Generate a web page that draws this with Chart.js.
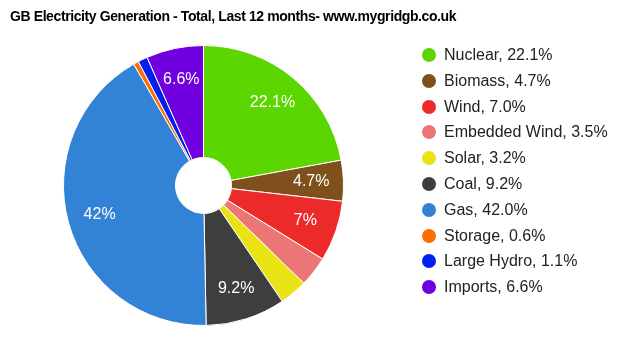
<!DOCTYPE html>
<html>
<head>
<meta charset="utf-8">
<script src="https://cdn.jsdelivr.net/npm/chart.js@4/dist/chart.umd.min.js"></script>
<style>
  html, body { margin: 0; padding: 0; background: #fff; }
  #wrap { position: relative; width: 632px; height: 348px; font-family: Arial, 'Liberation Sans', sans-serif; }
  #title { position: absolute; left: 10px; top: 8px; font-size: 14px; letter-spacing: -0.4px; font-weight: bold; color: #000; white-space: nowrap; }
  #legend .row { position: absolute; left: 422px; height: 26px; display: flex; align-items: center; font-size: 16px; color: #222; white-space: nowrap; }
  #legend .dot { width: 14px; height: 14px; border-radius: 50%; margin-right: 8px; }
  canvas { position: absolute; left: 0; top: 0; }
</style>
</head>
<body>
<div id="wrap">
  <canvas id="genChart" width="632" height="348"></canvas>
  <div id="title">GB Electricity Generation - Total, Last 12 months- www.mygridgb.co.uk</div>
  <div id="legend"></div>
</div>
<script>
// Generation mix, share of total over last 12 months (%)
const sources = ['Nuclear', 'Biomass', 'Wind', 'Embedded Wind', 'Solar', 'Coal', 'Gas', 'Storage', 'Large Hydro', 'Imports'];
const shares = [22.1, 4.7, 7.0, 3.5, 3.2, 9.2, 42.0, 0.6, 1.1, 6.6];
const colours = ['#5cd600', '#7f4f1c', '#ec2a2a', '#ec7575', '#e9e215', '#3e3e3e', '#3283d6', '#ff6c00', '#0020ee', '#7000e0'];

// legend on the right
const legend = document.getElementById('legend');
sources.forEach((s, i) => {
  const row = document.createElement('div');
  row.className = 'row';
  row.style.top = (55 + i * 25.8 - 13) + 'px';
  row.innerHTML = `<span class="dot" style="background:${colours[i]}"></span><span>${s}, ${shares[i].toFixed(1)}%</span>`;
  legend.appendChild(row);
});

// white percentage text inside the bigger slices
const sliceLabels = {
  id: 'sliceLabels',
  afterDatasetsDraw(chart) {
    const ctx = chart.ctx;
    const meta = chart.getDatasetMeta(0);
    ctx.save();
    ctx.font = '16px Arial, "Liberation Sans", sans-serif';
    ctx.fillStyle = '#fff';
    ctx.textAlign = 'center';
    ctx.textBaseline = 'middle';
    meta.data.forEach((arc, i) => {
      const v = shares[i];
      if (v < 4) return;
      const p = arc.getProps(['x', 'y', 'startAngle', 'endAngle', 'outerRadius']);
      const mid = (p.startAngle + p.endAngle) / 2;
      const r = p.outerRadius * 0.77;
      ctx.fillText(String(+v.toFixed(1)) + '%', p.x + Math.cos(mid) * r, p.y + Math.sin(mid) * r);
    });
    ctx.restore();
  }
};

new Chart(document.getElementById('genChart'), {
  type: 'doughnut',
  data: {
    labels: sources,
    datasets: [{ data: shares, backgroundColor: colours, borderColor: '#fff', borderWidth: 1, hoverOffset: 0, offset: 0 }]
  },
  options: {
    responsive: false,
    animation: false,
    cutout: '20%',
    layout: { padding: { left: 63, right: 288, top: 45, bottom: 22 } },
    plugins: { legend: { display: false }, tooltip: { enabled: false }, title: { display: false } }
  },
  plugins: [sliceLabels]
});
</script>
</body>
</html>
